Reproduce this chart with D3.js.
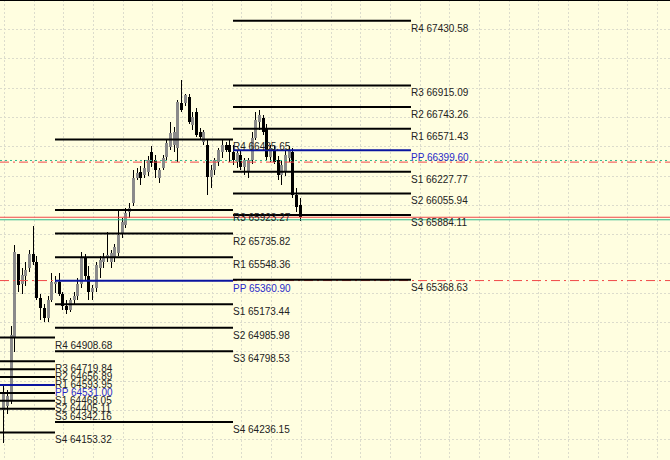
<!DOCTYPE html>
<html>
<head>
<meta charset="utf-8">
<script src="https://cdn.jsdelivr.net/npm/d3@7"></script>
<style>
  html, body { margin: 0; padding: 0; background: #fffee0; overflow: hidden; }
  svg { display: block; }
</style>
</head>
<body>
<svg id="chart" width="670" height="460"></svg>
<script>
// ---------- DATA ----------
// 30-minute candles: index 14 = first bar of day 2, index 62 = first bar of day 3
const candleOpen = [
  64332,64363,64411,64905,65573,65334,65398,65462,65573,65510,65223,65143,65064,65207,
  65334,65350,65255,65159,65128,65207,65239,65334,65541,65398,65271,65302,65462,65510,
  65541,65510,65541,65581,65732,65804,65907,65979,66178,66226,66202,66226,66385,66321,
  66178,66258,66345,66425,66441,66417,66775,66775,66823,66600,66704,66544,66465,66441,
  66186,66242,66305,66385,66441,66441,
  66385,66305,66361,66266,66226,66321,66497,66624,66656,66576,66345,66401,66321,66202,
  66226,66337,66385,66043,65963
];
const candleHigh = [
  64531,64491,65000,65645,65557,65462,65510,65605,65796,65557,65255,65175,65239,65422,
  65398,65422,65271,65207,65223,65271,65382,65589,65573,65478,65326,65510,65557,65581,
  65748,65605,65653,65923,65860,65939,65979,66242,66258,66274,66321,66353,66433,66361,
  66258,66361,66481,66624,66584,66799,66958,66847,66847,66704,66735,66576,66560,66481,
  66281,66337,66417,66481,66465,66481,
  66441,66401,66401,66337,66337,66544,66704,66720,66680,66608,66441,66433,66353,66321,
  66401,66433,66417,66099,66019
];
const candleLow = [
  64069,64300,64379,64793,65271,65255,65318,65430,65486,65207,65048,65032,65032,65191,
  65263,65239,65128,65096,65112,65167,65207,65302,65366,65207,65207,65271,65382,65462,
  65510,65462,65510,65557,65700,65780,65860,65955,66162,66122,66178,66194,66266,66178,
  66138,66242,66321,66401,66385,66305,66704,66751,66608,66560,66505,66481,66441,66043,
  66099,66202,66274,66337,66385,66305,
  66281,66258,66242,66202,66178,66289,66481,66560,66520,66321,66305,66289,66162,66122,
  66194,66305,66019,65907,65836
];
const candleClose = [
  64475,64443,64929,65589,65326,65406,65446,65573,65510,65223,65143,65064,65207,65350,
  65350,65255,65159,65128,65207,65239,65334,65541,65398,65271,65302,65486,65525,65541,
  65565,65581,65629,65724,65828,65899,65939,66178,66218,66178,66258,66321,66297,66242,
  66242,66337,66457,66536,66544,66783,66720,66839,66624,66664,66520,66505,66544,66186,
  66242,66321,66401,66441,66401,66385,
  66321,66377,66266,66321,66321,66497,66640,66680,66544,66345,66417,66305,66202,66281,
  66361,66401,66043,65947,65868
];

const pivotNames = ["R4","R3","R2","R1","PP","S1","S2","S3","S4"];
const day1Pivots = [64908.68, 64719.84, 64656.89, 64593.95, 64531.00, 64468.05, 64405.11, 64342.16, 64153.32];
const day2Pivots = [66485.65, 65923.27, 65735.82, 65548.36, 65360.90, 65173.44, 64985.98, 64798.53, 64236.15];
const day3Pivots = [67430.58, 66915.09, 66743.26, 66571.43, 66399.60, 66227.77, 66055.94, 65884.11, 65368.63];
const dayStartBar = [-34, 14, 62];
const dayEndBar   = [14, 62, 110];

// horizontal price lines across the whole chart
const priceLines = [
  { price: 66318, color: "#2fb88c", dash: "2,3", w: 1 },
  { price: 66305, color: "#f04848", dash: "9,4,2,4", w: 1 },
  { price: 65866, color: "#f04848", dash: null, w: 1 },
  { price: 65846, color: "#2fb88c", dash: null, w: 1 },
  { price: 65362, color: "#f04848", dash: "9,4,2,4", w: 1 }
];

// ---------- SCALES ----------
const W = 670, H = 460;
const svg = d3.select("#chart");
const x = d3.scaleLinear().domain([14, 62]).range([55, 233]);
const y = d3.scaleLinear().domain([63933.8, 67595.4]).range([H, 0]);

// background
svg.append("rect").attr("width", W).attr("height", H).attr("fill", "#fffee0");

// grid
const gx = d3.range(3.8, W, 29.7);
const gy = d3.range(-0.3, H, 29.3);
const grid = svg.append("g").attr("stroke", "#dcdccc").attr("stroke-width", 1)
  .attr("stroke-dasharray", "2,2").attr("shape-rendering", "crispEdges");
grid.selectAll("line.v").data(gx).join("line").attr("class", "v")
  .attr("x1", d => Math.round(d) + 0.5).attr("x2", d => Math.round(d) + 0.5)
  .attr("y1", 0).attr("y2", H);
grid.selectAll("line.h").data(gy).join("line").attr("class", "h")
  .attr("y1", d => Math.round(d) + 0.5).attr("y2", d => Math.round(d) + 0.5)
  .attr("x1", 0).attr("x2", W);

// top border
svg.append("line").attr("x1", 0).attr("x2", W).attr("y1", 0.5).attr("y2", 0.5)
  .attr("stroke", "#000").attr("stroke-width", 1);

// candles
const candles = candleOpen.map((o, i) => ({ i, o, h: candleHigh[i], l: candleLow[i], c: candleClose[i] }));
const cg = svg.append("g").attr("shape-rendering", "crispEdges");
cg.selectAll("line.wick").data(candles).join("line").attr("class", "wick")
  .attr("x1", d => Math.round(x(d.i)) + 0.5).attr("x2", d => Math.round(x(d.i)) + 0.5)
  .attr("y1", d => y(d.h)).attr("y2", d => y(d.l))
  .attr("stroke", "#000").attr("stroke-width", 1);
cg.selectAll("rect.body").data(candles).join("rect").attr("class", "body")
  .attr("x", d => Math.round(x(d.i)) - 1)
  .attr("width", 3)
  .attr("y", d => y(Math.max(d.o, d.c)))
  .attr("height", d => Math.max(1, Math.abs(y(d.o) - y(d.c))))
  .attr("fill", d => d.c >= d.o ? "#8a8a8a" : "#000");

// price lines
svg.append("g").selectAll("line").data(priceLines).join("line")
  .attr("x1", 0).attr("x2", W)
  .attr("y1", d => y(d.price)).attr("y2", d => y(d.price))
  .attr("stroke", d => d.color).attr("stroke-width", d => d.w)
  .attr("stroke-dasharray", d => d.dash);

// pivot lines + labels
const days = [day1Pivots, day2Pivots, day3Pivots];
const pivots = [];
days.forEach((vals, di) => vals.forEach((v, k) => pivots.push({
  name: pivotNames[k], v, x0: dayStartBar[di], x1: dayEndBar[di]
})));
const pg = svg.append("g");
pg.selectAll("line").data(pivots).join("line")
  .attr("x1", d => x(d.x0)).attr("x2", d => x(d.x1))
  .attr("y1", d => y(d.v)).attr("y2", d => y(d.v))
  .attr("stroke", d => d.name === "PP" ? "#0a14a0" : "#000")
  .attr("stroke-width", 2);
pg.selectAll("text").data(pivots).join("text")
  .attr("x", d => x(d.x1))
  .attr("y", d => y(d.v) + 11)
  .attr("font-family", "Liberation Sans, Arial, sans-serif")
  .attr("font-size", 10)
  .attr("fill", d => d.name === "PP" ? "#2828c8" : "#222")
  .text(d => d.name + " " + d.v.toFixed(2));
</script>
</body>
</html>
